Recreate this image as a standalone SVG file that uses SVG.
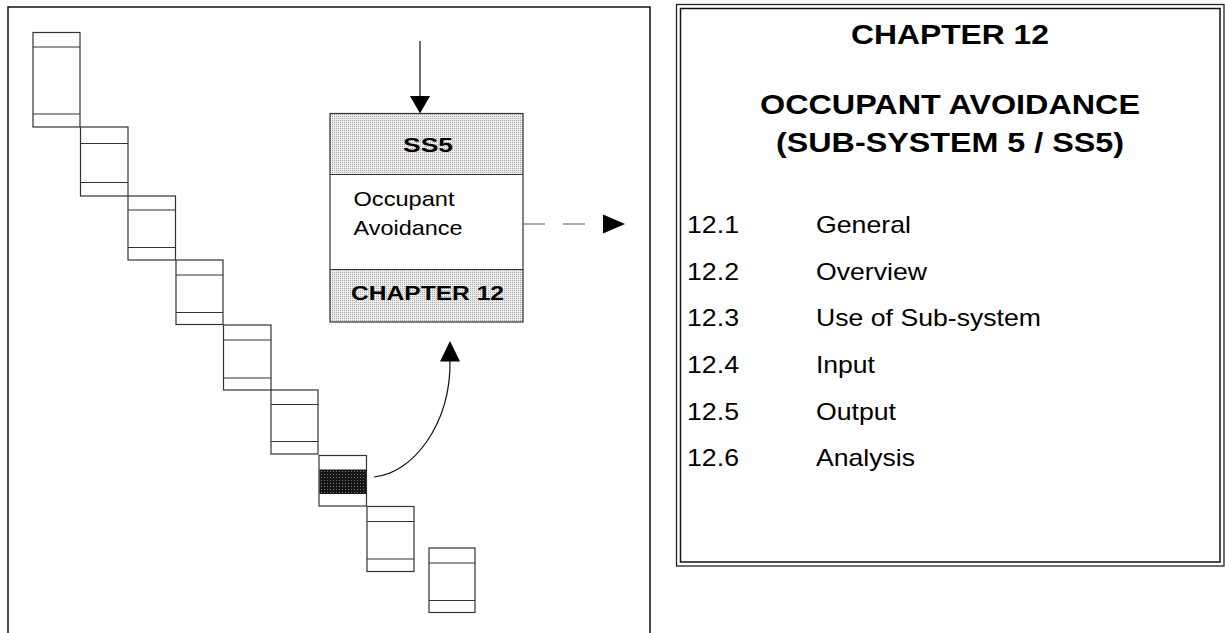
<svg xmlns="http://www.w3.org/2000/svg" width="1225" height="633" viewBox="0 0 1225 633">
<style>
.frame{fill:none;stroke:#111;stroke-width:1.5}
.box{fill:#fff;stroke:#333;stroke-width:1.2}
.ln{stroke:#333;stroke-width:1.2}
.conn{fill:none;stroke:#111;stroke-width:1.2}
.head{fill:#000;stroke:none}
.t{font-family:"Liberation Sans",Arial,sans-serif;fill:#000}
.b{font-weight:bold}
</style>
<defs>
<pattern id="light" width="2" height="2" patternUnits="userSpaceOnUse">
<rect width="2" height="2" fill="#ececec"/>
<rect width="1" height="1" fill="#a8a8a8"/>
</pattern>
<pattern id="dark" width="3" height="3" patternUnits="userSpaceOnUse">
<rect width="3" height="3" fill="#151515"/>
<rect width="1" height="1" fill="#777"/>
</pattern>
</defs>
<rect width="1225" height="633" fill="#fff"/>

<g id="left-panel">
<path class="frame" d="M8,633 V7 H650 V633"/>
</g>

<g id="step1"><rect class="box" x="33" y="32.5" width="47" height="94.5"/><line class="ln" x1="33" y1="47" x2="80" y2="47"/><line class="ln" x1="33" y1="114" x2="80" y2="114"/></g>
<g id="step2"><rect class="box" x="80.5" y="127" width="47.5" height="69"/><line class="ln" x1="80.5" y1="143.5" x2="128" y2="143.5"/><line class="ln" x1="80.5" y1="182.5" x2="128" y2="182.5"/></g>
<g id="step3"><rect class="box" x="128" y="196" width="47.5" height="64"/><line class="ln" x1="128" y1="210" x2="175.5" y2="210"/><line class="ln" x1="128" y1="247.5" x2="175.5" y2="247.5"/></g>
<g id="step4"><rect class="box" x="176" y="260" width="47" height="64.5"/><line class="ln" x1="176" y1="275" x2="223" y2="275"/><line class="ln" x1="176" y1="312.5" x2="223" y2="312.5"/></g>
<g id="step5"><rect class="box" x="223.5" y="325" width="47.5" height="65"/><line class="ln" x1="223.5" y1="340" x2="271" y2="340"/><line class="ln" x1="223.5" y1="378" x2="271" y2="378"/></g>
<g id="step6"><rect class="box" x="271" y="390" width="47" height="64"/><line class="ln" x1="271" y1="404.5" x2="318" y2="404.5"/><line class="ln" x1="271" y1="441.5" x2="318" y2="441.5"/></g>
<g id="step7"><rect class="box" x="319" y="455.5" width="47.5" height="50.5"/><rect x="319.5" y="469.5" width="46.5" height="24.5" fill="url(#dark)"/></g>
<g id="step8"><rect class="box" x="367" y="506.5" width="47" height="65"/><line class="ln" x1="367" y1="521.5" x2="414" y2="521.5"/><line class="ln" x1="367" y1="559" x2="414" y2="559"/></g>
<g id="step9"><rect class="box" x="429" y="548" width="46" height="64.5"/><line class="ln" x1="429" y1="563" x2="475" y2="563"/><line class="ln" x1="429" y1="600.5" x2="475" y2="600.5"/></g>

<g id="ss5">
<rect x="330" y="113.5" width="193" height="61" fill="url(#light)"/>
<rect x="330" y="269.5" width="193" height="52.5" fill="url(#light)"/>
<rect class="box" x="330" y="113.5" width="193" height="208.5" style="fill:none"/>
<line class="ln" x1="330" y1="174.5" x2="523" y2="174.5"/>
<line class="ln" x1="330" y1="269.5" x2="523" y2="269.5"/>
<text class="t b" x="428" y="151.5" font-size="21" text-anchor="middle" textLength="50" lengthAdjust="spacingAndGlyphs">SS5</text>
<text class="t" x="353.5" y="205.5" font-size="21" textLength="101" lengthAdjust="spacingAndGlyphs">Occupant</text>
<text class="t" x="353.5" y="235" font-size="21" textLength="109" lengthAdjust="spacingAndGlyphs">Avoidance</text>
<text class="t b" x="351" y="300" font-size="21" textLength="153" lengthAdjust="spacingAndGlyphs">CHAPTER 12</text>
</g>

<g id="connectors">
<line class="conn" x1="420" y1="41" x2="420" y2="97"/>
<polygon class="head" points="410,96 430,96 420,113.5"/>
<path class="conn" d="M374,477 C412,474 451,425 450,360"/>
<polygon class="head" points="440,361.5 460,361.5 450,341"/>
<line class="conn" x1="523" y1="224" x2="588" y2="224" stroke-dasharray="22,18" style="stroke:#555"/>
<polygon class="head" points="603,214.5 603,233.5 625,224"/>
</g>

<g id="chapter-panel">
<rect x="676.5" y="4.5" width="547.5" height="561.5" fill="none" stroke="#222" stroke-width="1.3"/>
<rect x="680.5" y="8.5" width="539.5" height="553.5" fill="none" stroke="#111" stroke-width="1.5"/>
<text class="t b" x="950" y="43.5" font-size="28" text-anchor="middle" textLength="198" lengthAdjust="spacingAndGlyphs">CHAPTER 12</text>
<text class="t b" x="950" y="113.5" font-size="28" text-anchor="middle" textLength="380" lengthAdjust="spacingAndGlyphs">OCCUPANT AVOIDANCE</text>
<text class="t b" x="950" y="151.5" font-size="28" text-anchor="middle" textLength="348" lengthAdjust="spacingAndGlyphs">(SUB-SYSTEM 5 / SS5)</text>
<g class="t" font-size="24">
<text x="687" y="232.5" textLength="52" lengthAdjust="spacingAndGlyphs">12.1</text>
<text x="816" y="232.5" textLength="95" lengthAdjust="spacingAndGlyphs">General</text>
<text x="687" y="279.5" textLength="52" lengthAdjust="spacingAndGlyphs">12.2</text>
<text x="816" y="279.5" textLength="111" lengthAdjust="spacingAndGlyphs">Overview</text>
<text x="687" y="326" textLength="52" lengthAdjust="spacingAndGlyphs">12.3</text>
<text x="816" y="326" textLength="225" lengthAdjust="spacingAndGlyphs">Use of Sub-system</text>
<text x="687" y="372.5" textLength="52" lengthAdjust="spacingAndGlyphs">12.4</text>
<text x="816" y="372.5" textLength="59" lengthAdjust="spacingAndGlyphs">Input</text>
<text x="687" y="419.5" textLength="52" lengthAdjust="spacingAndGlyphs">12.5</text>
<text x="816" y="419.5" textLength="80" lengthAdjust="spacingAndGlyphs">Output</text>
<text x="687" y="466" textLength="52" lengthAdjust="spacingAndGlyphs">12.6</text>
<text x="816" y="466" textLength="99" lengthAdjust="spacingAndGlyphs">Analysis</text>
</g>
</g>
</svg>
